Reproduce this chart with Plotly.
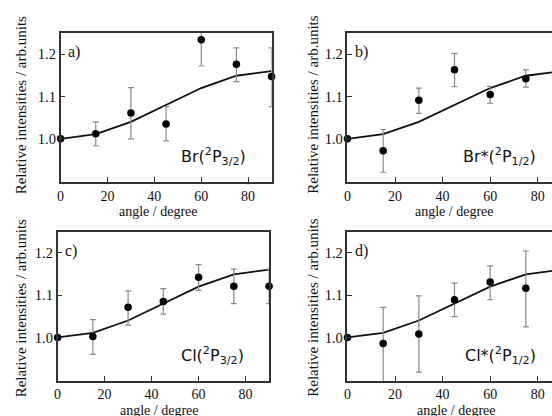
import plotly.graph_objects as go

# ---- data ----
angles = [0, 15, 30, 45, 60, 75, 90]
fit_curve = [1.0, 1.011, 1.04, 1.08, 1.12, 1.149, 1.16]

a_val = [1.0, 1.012, 1.061, 1.035, 1.234, 1.176, 1.147]
a_up = [0, 0.028, 0.060, 0.041, 0.062, 0.039, 0.068]
a_dn = [0, 0.029, 0.061, 0.040, 0.062, 0.041, 0.071]

b_ang = [0, 15, 30, 45, 60, 75]
b_val = [1.0, 0.972, 1.091, 1.163, 1.105, 1.142]
b_up = [0, 0.050, 0.029, 0.039, 0.019, 0.021]
b_dn = [0, 0.051, 0.031, 0.040, 0.021, 0.020]

c_val = [1.0, 1.002, 1.071, 1.085, 1.142, 1.121, 1.121]
c_up = [0, 0.040, 0.039, 0.030, 0.030, 0.040, 0.040]
c_dn = [0, 0.042, 0.042, 0.030, 0.031, 0.041, 0.041]

d_ang = [0, 15, 30, 45, 60, 75]
d_val = [1.0, 0.986, 1.008, 1.089, 1.131, 1.116]
d_up = [0, 0.085, 0.090, 0.039, 0.038, 0.088]
d_dn = [0, 0.110, 0.090, 0.040, 0.042, 0.091]

panel_letters = ["a)", "b)", "c)", "d)"]
species = ["Br(<sup>2</sup>P<sub>3/2</sub>)", "Br*(<sup>2</sup>P<sub>1/2</sub>)",
           "Cl(<sup>2</sup>P<sub>3/2</sub>)", "Cl*(<sup>2</sup>P<sub>1/2</sub>)"]
x_ticks = [0, 20, 40, 60, 80]
y_ticks = [1.0, 1.1, 1.2]
x_title = "angle / degree"
y_title = "Relative intensities / arb.units"

W, H = 552, 416
SERIF = "Liberation Serif"
SANS = "DejaVu Sans"
AX = "#333333"
ERR = "#8a8a8a"

panels = [
    dict(ang=angles, val=a_val, up=a_up, dn=a_dn, xd=(57, 269.5), yd=(33, 182), xr=90, mirror_y=True),
    dict(ang=b_ang, val=b_val, up=b_up, dn=b_dn, xd=(346, 552), yd=(33, 182), xr=86, mirror_y=False),
    dict(ang=angles, val=c_val, up=c_up, dn=c_dn, xd=(54, 267), yd=(231.5, 380.7), xr=90, mirror_y=True),
    dict(ang=d_ang, val=d_val, up=d_up, dn=d_dn, xd=(346, 552), yd=(231.5, 380.7), xr=86, mirror_y=False),
]

fig = go.Figure()
layout = dict(width=W, height=H, margin=dict(l=0, r=0, t=0, b=0),
              paper_bgcolor="white", plot_bgcolor="white", showlegend=False,
              font=dict(family=SERIF, size=14, color="#111111"))
annotations = []

for i, p in enumerate(panels):
    n = "" if i == 0 else str(i + 1)
    xa, ya = "x" + n, "y" + n
    # fitted curve
    fig.add_trace(go.Scatter(x=angles, y=fit_curve, mode="lines", xaxis=xa, yaxis=ya,
                             line=dict(color="#111111", width=1.8), hoverinfo="skip"))
    # error bars (clipped to plot area)
    fig.add_trace(go.Scatter(x=p["ang"], y=p["val"], mode="markers", xaxis=xa, yaxis=ya,
                             marker=dict(size=1, color="rgba(0,0,0,0)"),
                             error_y=dict(type="data", symmetric=False, array=p["up"],
                                          arrayminus=p["dn"], color=ERR, thickness=1.2, width=3),
                             cliponaxis=True))
    # points
    fig.add_trace(go.Scatter(x=p["ang"], y=p["val"], mode="markers", xaxis=xa, yaxis=ya,
                             marker=dict(size=7.5, color="#000000"), cliponaxis=False))

    x0, x1 = p["xd"]
    yt, yb = p["yd"]
    layout["xaxis" + n] = dict(domain=[x0 / W, x1 / W], range=[0, p["xr"]], anchor=ya,
                               tickvals=x_ticks, ticks="inside", ticklen=5, tickwidth=1,
                               tickcolor=AX, showline=True, linecolor=AX, linewidth=1.5,
                               mirror=True, showgrid=False, zeroline=False,
                               ticklabelstandoff=0,
                               tickfont=dict(family=SERIF, size=14))
    layout["yaxis" + n] = dict(domain=[(H - yb) / H, (H - yt) / H], range=[0.898, 1.25], anchor=xa,
                               tickvals=y_ticks, ticktext=["1.0", "1.1", "1.2"],
                               ticks="inside", ticklen=5, tickwidth=1, tickcolor=AX,
                               showline=True, linecolor=AX, linewidth=1.5,
                               mirror=p["mirror_y"], showgrid=False, zeroline=False,
                               tickfont=dict(family=SERIF, size=14.5))

    # panel letter
    annotations.append(dict(text=panel_letters[i], xref=xa, yref=ya, x=2.4, y=1.205,
                            xanchor="left", yanchor="middle", showarrow=False,
                            font=dict(family=SERIF, size=16, color="#111111")))
    # species label
    annotations.append(dict(text=species[i], xref=xa, yref=ya, x=80, y=0.958,
                            xanchor="right", yanchor="middle", showarrow=False,
                            font=dict(family=SANS, size=16, color="#111111")))

# axis titles as annotations
for cx, cy in [(17.5, 105), (311, 105), (17.5, 308), (311, 308)]:
    annotations.append(dict(text=y_title, xref="paper", yref="paper", x=cx / W, y=1 - cy / H,
                            xanchor="center", yanchor="middle", textangle=-90, showarrow=False,
                            font=dict(family=SERIF, size=15, color="#111111")))
for cx, cy in [(156, 211.5), (454, 211.5), (157, 410.5), (456, 410.5)]:
    annotations.append(dict(text=x_title, xref="paper", yref="paper", x=cx / W, y=1 - cy / H,
                            xanchor="center", yanchor="middle", showarrow=False,
                            font=dict(family=SERIF, size=14, color="#111111")))

layout["annotations"] = annotations
fig.update_layout(**layout)
fig.write_html("out.html", config={"displayModeBar": False},
               post_script="document.body.style.margin='0';document.body.style.overflow='hidden';")
